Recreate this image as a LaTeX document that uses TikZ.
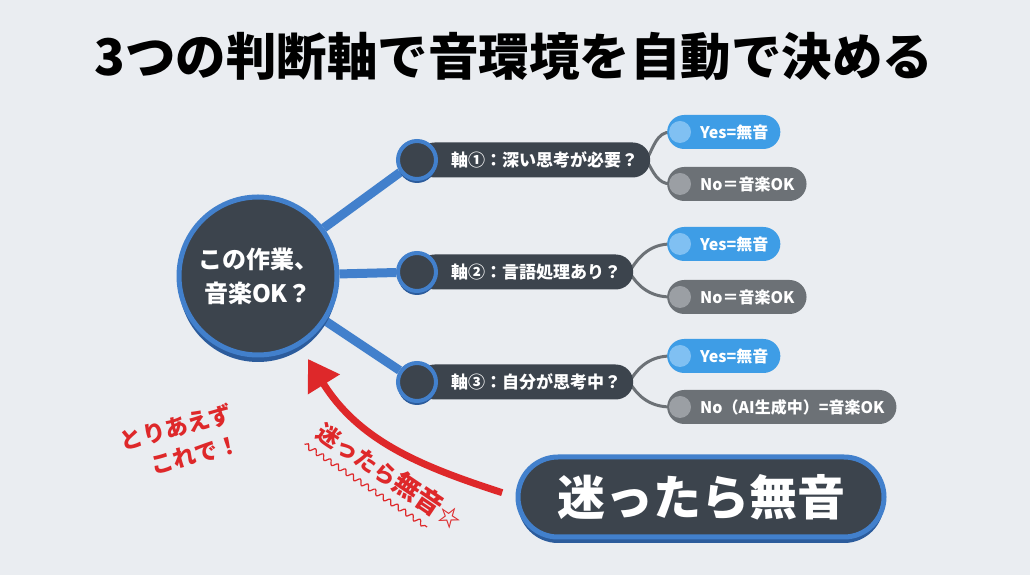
\documentclass[tikz,border=0pt]{standalone}
\usepackage{fontspec}
\setmainfont{Noto Sans CJK JP}
\usepackage{tikz}
\usetikzlibrary{positioning, arrows.meta, shadows, calc, decorations.pathmorphing}

\definecolor{bgcol}{RGB}{234,237,241}
\definecolor{darkfill}{RGB}{60,68,77}
\definecolor{rimblue}{RGB}{66,128,204}
\definecolor{rimdark}{RGB}{44,92,156}
\definecolor{yesblue}{RGB}{62,157,230}
\definecolor{yesdot}{RGB}{128,192,242}
\definecolor{nogray}{RGB}{108,113,118}
\definecolor{nodot}{RGB}{155,159,164}
\definecolor{redink}{RGB}{222,40,42}

\pgfdeclarelayer{backdrop}
\pgfsetlayers{backdrop,main}

\begin{document}
\begin{tikzpicture}[
    x=1pt, y=1pt,
    hub/.style={circle, fill=darkfill, draw=rimblue, line width=5pt, minimum size=158pt, text=white, align=center,
        font=\fontsize{24}{34}\selectfont\bfseries,
        drop shadow={shadow xshift=0pt, shadow yshift=-7pt, fill=rimdark, opacity=1}},
    knob/.style={circle, fill=darkfill, draw=rimblue, line width=4pt, minimum size=38pt,
        drop shadow={shadow xshift=0pt, shadow yshift=-4pt, fill=rimdark, opacity=1}},
    axpill/.style={rectangle, rounded corners=17.5pt, fill=darkfill, minimum height=35pt, inner xsep=12pt, anchor=west,
        text=white, font=\fontsize{17}{20}\selectfont\bfseries},
    answer/.style={rectangle, rounded corners=17pt, fill=#1, minimum height=34pt, inner xsep=12pt, anchor=west,
        text=white, font=\fontsize{16}{20}\selectfont\bfseries},
    answer/.default=yesblue,
    spoke/.style={line width=9pt, rimblue},
    branch/.style={line width=3pt, nogray},
    redarrow/.style={line width=7pt, redink, -{Triangle[length=30pt, width=36pt]}},
    scribble/.style={text=redink, align=center, font=\fontsize{23}{31}\selectfont\bfseries},
]

\begin{pgfonlayer}{backdrop}
\fill[bgcol] (0,0) rectangle (1030,575);
\end{pgfonlayer}
\useasboundingbox (0,0) rectangle (1030,575);

% --- title ---
\node[font=\fontsize{50.5}{58}\selectfont\bfseries] (title) at (514,518) {3つの判断軸で音環境を自動で決める};

% --- hub and axes ---
\node[hub] (hub) at (258,299) {この作業、\\音楽OK？};

\node[axpill] (p1) at (417,415) {\hspace{22pt}軸①：深い思考が必要？};
\node[axpill] (p2) at (417,303) {\hspace{22pt}軸②：言語処理あり？};
\node[axpill] (p3) at (417,193) {\hspace{22pt}軸③：自分が思考中？};
\node[knob] (k1) at (417,415) {};
\node[knob] (k2) at (417,303) {};
\node[knob] (k3) at (417,193) {};

% --- answers ---
\node[answer] (y1) at (667,443) {\hspace{21pt}Yes=無音};
\node[answer=nogray] (n1) at (667,391) {\hspace{21pt}No＝音楽OK};
\node[answer] (y2) at (667,331) {\hspace{21pt}Yes=無音};
\node[answer=nogray] (n2) at (667,278) {\hspace{21pt}No＝音楽OK};
\node[answer] (y3) at (667,219) {\hspace{21pt}Yes=無音};
\node[answer=nogray] (n3) at (667,168) {\hspace{21pt}No（AI生成中）=音楽OK};
\foreach \a in {y1,y2,y3} \fill[yesdot] ($(\a.west)+(13,0)$) circle (11);
\foreach \a in {n1,n2,n3} \fill[nodot] ($(\a.west)+(13,0)$) circle (11);

\begin{pgfonlayer}{backdrop}
\draw[spoke] (hub) -- (k1);
\draw[spoke] (hub) -- (k2);
\draw[spoke] (hub) -- (k3);
\foreach \p/\y/\n in {p1/y1/n1, p2/y2/n2, p3/y3/n3} {
    \draw[branch] ([xshift=-4pt]\p.east) to[out=60, in=180] ([xshift=4pt]\y.west);
    \draw[branch] ([xshift=-4pt]\p.east) to[out=-60, in=180] ([xshift=4pt]\n.west);
}
\end{pgfonlayer}

% --- fallback rule ---
\node[rectangle, rounded corners=40pt, fill=darkfill, draw=rimblue, line width=5pt, minimum width=366pt, minimum height=80pt,
    text=white, font=\fontsize{48}{56}\selectfont\bfseries,
    drop shadow={shadow xshift=0pt, shadow yshift=-6pt, fill=rimdark, opacity=1}] (mayou) at (701,78) {迷ったら無音};

\coordinate (tip) at (308,216);
\draw[redarrow, shorten <=14pt] (mayou.west) to[out=162, in=-58] (tip);

\node[scribble, rotate=-34] (motto) at (390,100) {{\fontsize{23}{28}\selectfont 迷ったら}{\fontsize{27}{28}\selectfont 無音}☆};
\draw[redink, line width=1.2pt, decorate, decoration={snake, amplitude=2.5pt, segment length=9pt}]
    ([shift={(-124:6pt)}]motto.south west) -- ([shift={(-124:6pt)}]$(motto.south west)!0.84!(motto.south east)$);

\node[scribble, rotate=15] (memo) at (180,133) {とりあえず\\\hspace{1em}これで！};

\end{tikzpicture}
\end{document}
